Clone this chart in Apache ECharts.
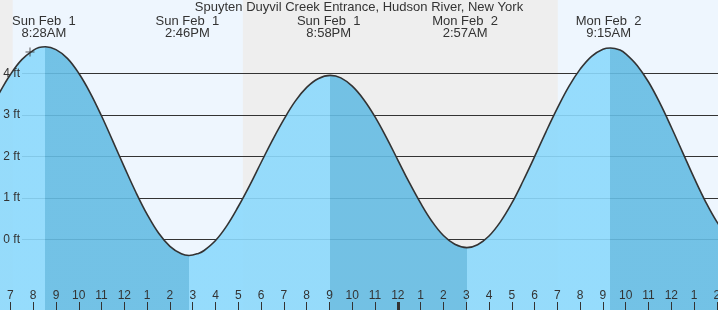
<!DOCTYPE html>
<html><head><meta charset="utf-8">
<script src="https://cdn.jsdelivr.net/npm/echarts@6/dist/echarts.min.js"></script>
<style>html,body{margin:0;padding:0;background:#eeeeee}#c{width:718px;height:310px}</style>
</head><body><div id="c"></div>
<script>
const titleText = 'Spuyten Duyvil Creek Entrance, Hudson River, New York';
// Tide curve: hours since Sun Feb 1 00:00, height in ft
const hours = [6, 6.5, 7, 7.5, 8, 8.25, 8.54, 9, 9.5, 10, 10.5, 11, 11.5, 12, 12.5, 13, 13.5, 14, 14.5, 14.84,
  15.25, 15.5, 16, 16.5, 17, 17.5, 18, 18.5, 19, 19.5, 20, 20.5, 21.04, 21.5, 22, 22.5, 23, 23.5, 24, 24.5, 25, 25.5,
  26, 26.5, 27.03, 27.5, 28, 28.5, 29, 29.5, 30, 30.5, 31, 31.5, 32, 32.5, 33, 33.33, 33.75, 34, 34.5, 35, 35.5,
  36, 36.5, 37, 37.5, 38, 38.5, 39];
const heights = [2.97, 3.51, 3.97, 4.33, 4.55, 4.62, 4.64, 4.57, 4.36, 4.00, 3.53, 2.97, 2.36, 1.74, 1.14, 0.60, 0.15, -0.17, -0.35, -0.39,
  -0.34, -0.27, -0.03, 0.33, 0.79, 1.30, 1.85, 2.39, 2.89, 3.33, 3.66, 3.87, 3.95, 3.89, 3.69, 3.37, 2.95, 2.45, 1.91, 1.37, 0.87, 0.43,
  0.09, -0.12, -0.20, -0.13, 0.08, 0.42, 0.87, 1.41, 1.99, 2.59, 3.16, 3.68, 4.10, 4.41, 4.58, 4.61, 4.56, 4.47, 4.19, 3.79, 3.28,
  2.70, 2.09, 1.48, 0.91, 0.42, 0.05, -0.19];
// Tide event labels (hours since Sun Feb 1 00:00)
const eventTimes = [8.467, 14.767, 20.967, 26.95, 33.25];
const eventDays  = ['Sun Feb  1', 'Sun Feb  1', 'Sun Feb  1', 'Mon Feb  2', 'Mon Feb  2'];
const eventClock = ['8:28AM', '2:46PM', '8:58PM', '2:57AM', '9:15AM'];
// Daylight periods (hours)
const dayStarts = [7.1, 31.02];
const dayEnds   = [17.2, 39];
// Current-time marker
const nowTime = [7.86];
const nowHeight = [4.51];
// Axis ticks
const yTicks = [0, 1, 2, 3, 4];
const midnightTicks = [24];

const LIGHT = '#8cd9fc', DARK = '#65bce3', DAYBG = '#eef6fe', INK = '#333333';
const FONT = 'Liberation Sans, Arial, sans-serif';

const pts = hours.map((h, i) => [h, heights[i]]);
const ext = [];
for (let i = 1; i < heights.length - 1; i++) {
  if ((heights[i] - heights[i - 1]) * (heights[i + 1] - heights[i]) < 0) ext.push(hours[i]);
}
const rising0 = heights[1] > heights[0];
const pieces = [];
for (let i = 0; i <= ext.length; i++) {
  const p = {};
  if (i > 0) p.gte = ext[i - 1];
  if (i < ext.length) p.lt = ext[i];
  p.color = ((i % 2 === 0) === rising0) ? LIGHT : DARK;
  pieces.push(p);
}
const hourFmt = v => { const h = ((Math.round(v) % 12) + 12) % 12; return h === 0 ? '12' : String(h); };
const evFmt = v => {
  const i = eventTimes.findIndex(t => Math.abs(t - v) < 1e-6);
  return i < 0 ? '' : eventDays[i] + '\n' + eventClock[i];
};

const chart = echarts.init(document.getElementById('c'), null, {renderer: 'canvas'});
chart.setOption({
  animation: false,
  backgroundColor: '#eeeeee',
  title: {text: titleText, left: 'center', top: 1, padding: 0,
    textStyle: {fontSize: 13, fontWeight: 'normal', color: INK, fontFamily: FONT}},
  grid: [
    {left: -12.39, right: -21.7, top: 0, bottom: 0, outerBoundsMode: 'none', containLabel: false},
    {left: 22, right: 0, top: 73.3, bottom: 70.7, outerBoundsMode: 'none', containLabel: false}
  ],
  visualMap: {type: 'piecewise', show: false, dimension: 0, seriesIndex: 0, pieces: pieces},
  xAxis: [
    {gridIndex: 0, type: 'value', min: 6, max: 39, interval: 1, position: 'bottom', z: 6,
      axisLine: {show: false, onZero: false}, splitLine: {show: false},
      axisTick: {show: true, inside: true, length: 8, lineStyle: {color: INK, width: 1}},
      axisLabel: {inside: true, margin: 8, color: INK, fontSize: 12, fontFamily: FONT, formatter: hourFmt}},
    {gridIndex: 1, type: 'value', min: 0, max: 1, show: false},
    {gridIndex: 0, type: 'value', min: 6, max: 39, position: 'bottom', z: 6,
      axisLine: {show: false, onZero: false}, splitLine: {show: false},
      axisTick: {show: true, inside: true, length: 8, customValues: midnightTicks, lineStyle: {color: INK, width: 3}},
      axisLabel: {show: false, customValues: midnightTicks}},
    {gridIndex: 0, type: 'value', min: 6, max: 39, position: 'top', z: 6,
      axisLine: {show: false, onZero: false}, splitLine: {show: false}, axisTick: {show: false},
      axisLabel: {inside: true, margin: 15, customValues: eventTimes, formatter: evFmt,
        color: INK, fontSize: 13, lineHeight: 12, fontFamily: FONT, align: 'center'}}
  ],
  yAxis: [
    {gridIndex: 0, type: 'value', min: -1.704, max: 5.766, show: false},
    {gridIndex: 1, type: 'value', min: yTicks[0], max: yTicks[yTicks.length - 1], interval: 1, z: 2,
      axisLine: {show: false}, axisTick: {show: false}, axisLabel: {show: false},
      splitLine: {show: true, lineStyle: {color: INK, width: 1}}},
    {gridIndex: 1, type: 'value', min: yTicks[0], max: yTicks[yTicks.length - 1], interval: 1, position: 'left', z: 6,
      axisLine: {show: false}, axisTick: {show: false}, splitLine: {show: false},
      axisLabel: {formatter: '{value} ft', margin: 2, color: INK, fontSize: 12, fontFamily: FONT}}
  ],
  series: [
    {type: 'line', xAxisIndex: 0, yAxisIndex: 0, data: pts, smooth: 0.4, symbol: 'none', z: 3,
      lineStyle: {width: 0, opacity: 0}, areaStyle: {opacity: 0.9, origin: 'start'},
      markArea: {silent: true, z: 1, itemStyle: {color: DAYBG}, label: {show: false},
        data: dayStarts.map((s, i) => [{xAxis: s}, {xAxis: dayEnds[i]}])}},
    {type: 'line', xAxisIndex: 0, yAxisIndex: 0, data: pts, smooth: 0.4, symbol: 'none', z: 4,
      lineStyle: {color: INK, width: 1.6}},
    {type: 'scatter', xAxisIndex: 0, yAxisIndex: 0, data: nowTime.map((t, i) => [t, nowHeight[i]]), z: 5,
      symbol: 'path://M0,4H9V5H0Z M4,0H5V9H4Z', symbolSize: 9, itemStyle: {color: INK}}
  ]
});
</script></body></html>
